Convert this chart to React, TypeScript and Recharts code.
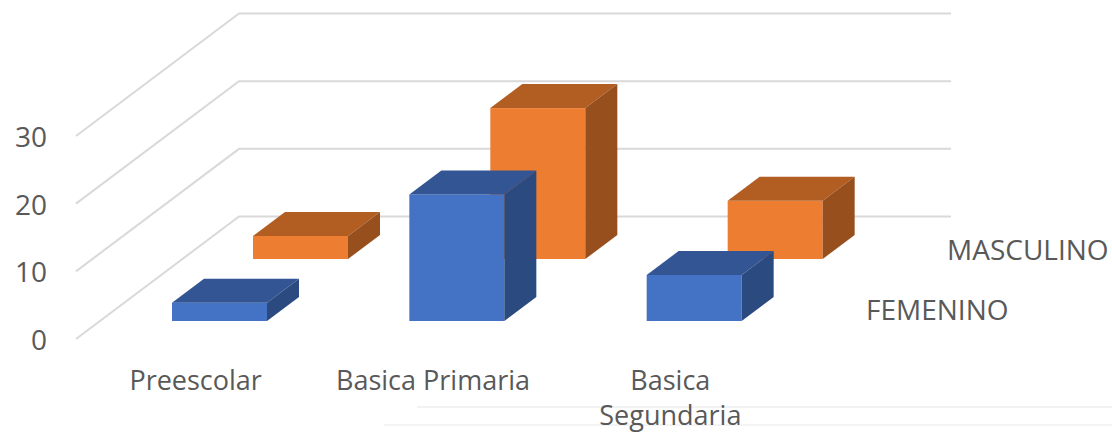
import { Bar, BarChart, CartesianGrid, XAxis, YAxis } from "recharts";

const categories = ["Preescolar", "Basica Primaria", "Basica Segundaria"];
const categoryLines = [["Preescolar"], ["Basica Primaria"], ["Basica", "Segundaria"]];
const femenino = [2.7, 18.7, 6.8];
const masculino = [3.4, 22.3, 8.6];
const valueTicks = [0, 10, 20, 30];
const seriesNames = ["FEMENINO", "MASCULINO"];

const chartData = categories.map((name, i) => ({
  name,
  femenino: femenino[i],
  masculino: masculino[i],
}));

const FONT = "'Open Sans', sans-serif";
const TEXT_COLOR = "#595959";
const WALL_DX = 163;
const WALL_DY = 122.5;

function Box3D(props: any) {
  const { x, y, width, height, dx, dy, front, top, side } = props;
  const left = x + dx;
  const right = left + width;
  const upper = y + dy;
  const lower = upper + height;
  const depthX = 32;
  const depthY = 24;
  return (
    <g>
      <rect x={left} y={upper} width={width} height={height} fill={front} />
      <path
        d={`M${left},${upper}L${left + depthX},${upper - depthY}L${right + depthX},${upper - depthY}L${right},${upper}Z`}
        fill={top}
      />
      <path
        d={`M${right},${upper}L${right + depthX},${upper - depthY}L${right + depthX},${lower - depthY}L${right},${lower}Z`}
        fill={side}
      />
    </g>
  );
}

function WallLine(props: any) {
  const { x1, y1, x2 } = props;
  const backY = y1 - WALL_DY;
  return (
    <path
      d={`M${x1},${y1}L${x1 + WALL_DX},${backY}L${x2 + WALL_DX},${backY}`}
      fill="none"
      stroke="#d9d9d9"
      strokeWidth={2}
    />
  );
}

function ValueTick(props: any) {
  const { y, payload } = props;
  return (
    <text x={47} y={y + 11} textAnchor="end" fontSize={28} fontFamily={FONT} fill={TEXT_COLOR}>
      {payload.value}
    </text>
  );
}

function CategoryTick(props: any) {
  const { x, payload, index } = props;
  const lines = categoryLines[index] || [payload.value];
  return (
    <text textAnchor="middle" fontSize={27} fontFamily={FONT} fill={TEXT_COLOR}>
      {lines.map((line: string, i: number) => (
        <tspan key={line} x={x + 1} y={390 + i * 35}>
          {line}
        </tspan>
      ))}
    </text>
  );
}

export default function App() {
  return (
    <div style={{ position: "absolute", left: 0, top: 0, width: 1112, height: 432, background: "#fff", overflow: "hidden" }}>
      <div style={{ position: "absolute", left: 417, top: 406, width: 695, height: 2, background: "#f2f2f2" }} />
      <div style={{ position: "absolute", left: 384, top: 424, width: 728, height: 2, background: "#f4f4f4" }} />
      <BarChart
        width={1112}
        height={432}
        data={chartData}
        barSize={95}
        barGap={-95}
        margin={{ top: 136, right: 324, bottom: 0, left: 0 }}
        style={{ position: "absolute", left: 0, top: 0 }}
      >
        <CartesianGrid vertical={false} horizontal={(p: any) => <WallLine key={p.key} {...p} />} />
        <XAxis dataKey="name" height={93} axisLine={false} tickLine={false} tick={<CategoryTick />} interval={0} />
        <YAxis width={76} domain={[0, 30]} ticks={valueTicks} axisLine={false} tickLine={false} tick={<ValueTick />} />
        <Bar
          dataKey="masculino"
          isAnimationActive={false}
          shape={(p: any) => <Box3D {...p} dx={106} dy={-80} front="#ed7d31" top="#b25d22" side="#974f1e" />}
        />
        <Bar
          dataKey="femenino"
          isAnimationActive={false}
          shape={(p: any) => <Box3D {...p} dx={25} dy={-18} front="#4472c4" top="#335593" side="#2a4a80" />}
        />
        <text x={947} y={260} fontSize={28} fontFamily={FONT} fill={TEXT_COLOR}>
          {seriesNames[1]}
        </text>
        <text x={866} y={320} fontSize={28} fontFamily={FONT} fill={TEXT_COLOR}>
          {seriesNames[0]}
        </text>
      </BarChart>
    </div>
  );
}
